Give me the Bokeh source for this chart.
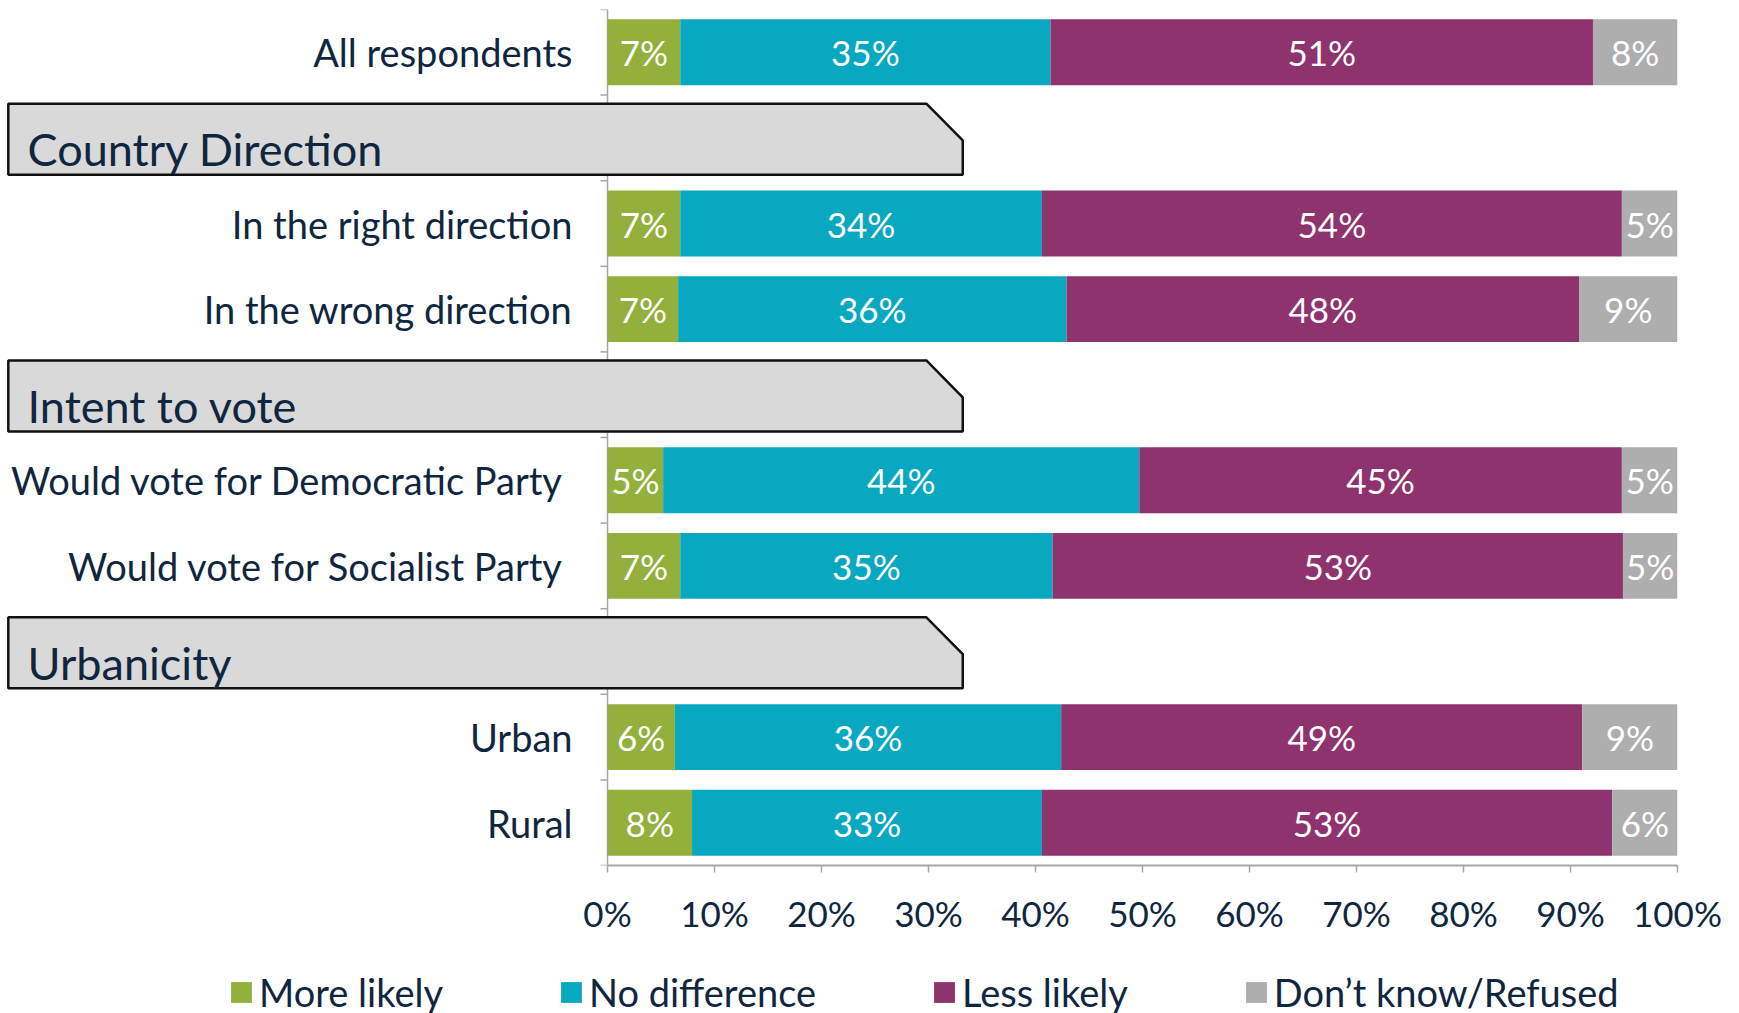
from bokeh.plotting import figure
from bokeh.layouts import column
from bokeh.models import Range1d, ColumnDataSource, FixedTicker, Legend, LegendItem
from bokeh.core.properties import value
from bokeh.embed import file_html
from bokeh.resources import INLINE

# ---------------- data ----------------
group_titles = [None, "Country Direction", "Intent to vote", "Urbanicity"]
group_members = [
    ["All respondents"],
    ["In the right direction", "In the wrong direction"],
    ["Would vote for Democratic Party", "Would vote for Socialist Party"],
    ["Urban", "Rural"],
]
categories = ["All respondents", "In the right direction", "In the wrong direction",
              "Would vote for Democratic Party", "Would vote for Socialist Party",
              "Urban", "Rural"]
series_names = ["More likely", "No difference", "Less likely", "Don\u2019t know/Refused"]
more_likely = [6.8, 6.8, 6.6, 5.2, 6.8, 6.3, 7.9]
no_difference = [34.6, 33.8, 36.3, 44.5, 34.8, 36.1, 32.7]
less_likely = [50.7, 54.2, 47.9, 45.1, 53.3, 48.7, 53.3]
dont_know = [7.9, 5.2, 9.2, 5.2, 5.1, 8.9, 6.1]
more_likely_lbl = [7, 7, 7, 5, 7, 6, 8]
no_difference_lbl = [35, 34, 36, 44, 35, 36, 33]
less_likely_lbl = [51, 54, 48, 45, 53, 49, 53]
dont_know_lbl = [8, 5, 9, 5, 5, 9, 6]
tick_values = [0, 10, 20, 30, 40, 50, 60, 70, 80, 90, 100]
tick_labels = ["0%", "10%", "20%", "30%", "40%", "50%", "60%", "70%", "80%", "90%", "100%"]

# ---------------- style ----------------
COLORS = ["#93AF3C", "#08A8C0", "#8E336D", "#AEAEAF"]
NAVY = "#10263F"
AXIS_GRAY = "#A6A6A6"
FONT = "Lato"
N_SLOTS = 10
W = 1730
LABEL_RIGHT_DEFAULT = -3.27
LABEL_RIGHT_LONG = -4.1
LONG_LABELS = {"Would vote for Democratic Party", "Would vote for Socialist Party"}

# slot layout: headers take a slot, members take one slot each
cat_slot = {}
header_slots = []
s = 0
for title, members in zip(group_titles, group_members):
    if title is not None:
        header_slots.append((title, s))
        s += 1
    for m in members:
        cat_slot[m] = s
        s += 1

def center(slot):
    return N_SLOTS - slot - 0.5

p = figure(width=W, height=945, output_backend="svg", toolbar_location=None,
           x_range=Range1d(-56.73, 100), y_range=Range1d(0, N_SLOTS),
           y_axis_location=None, min_border_left=0, min_border_right=53,
           min_border_top=9, min_border_bottom=80)
p.outline_line_color = None
p.xgrid.grid_line_color = None
p.ygrid.grid_line_color = None
p.background_fill_color = "white"

# vertical category axis at x = 0
p.segment(x0=[0], y0=[0], x1=[0], y1=[N_SLOTS], line_color=AXIS_GRAY, line_width=1.5)
bounds_y = list(range(N_SLOTS + 1))
p.segment(x0=[-0.65] * len(bounds_y), y0=bounds_y, x1=[0] * len(bounds_y), y1=bounds_y,
          line_color=AXIS_GRAY, line_width=1.5)

ys = [center(cat_slot[c]) for c in categories]
series = [more_likely, no_difference, less_likely, dont_know]
labels = [more_likely_lbl, no_difference_lbl, less_likely_lbl, dont_know_lbl]

left = [0.0] * len(categories)
for name, vals, lbls, col in zip(series_names, series, labels, COLORS):
    right = [l + v for l, v in zip(left, vals)]
    src = ColumnDataSource(dict(y=ys, left=left, right=right,
                                mid=[(l + r) / 2 for l, r in zip(left, right)],
                                txt=[f"{v}%" for v in lbls]))
    p.hbar(y="y", left="left", right="right", height=0.77, source=src,
           fill_color=col, line_color=None)
    p.text(x="mid", y="y", text="txt", source=src, text_color="white",
           text_font=value(FONT), text_font_size="35px",
           text_align="center", text_baseline="middle")
    left = right

# category labels
label_x = [LABEL_RIGHT_LONG if c in LONG_LABELS else LABEL_RIGHT_DEFAULT for c in categories]
p.text(x=label_x, y=ys, text=categories, text_color=NAVY,
       text_font=value(FONT), text_font_size="38px",
       text_align="right", text_baseline="middle")

# header boxes
xs_list, ys_list, hx, hy, ht = [], [], [], [], []
for title, slot in header_slots:
    top = N_SLOTS - slot - 0.10
    bot = N_SLOTS - slot - 1 + 0.07
    xs_list.append([-56.0, 29.8, 33.2, 33.2, -56.0])
    ys_list.append([top, top, top - 0.43, bot, bot])
    hx.append(-54.2)
    hy.append(bot + 0.30)
    ht.append(title)
p.patches(xs=xs_list, ys=ys_list, fill_color="#D9D9D9", line_color="#111111", line_width=2.5)
p.text(x=hx, y=hy, text=ht, text_color=NAVY, text_font=value(FONT),
       text_font_size="45px", text_align="left", text_baseline="middle")

# x axis
ax = p.xaxis[0]
ax.ticker = FixedTicker(ticks=tick_values)
ax.major_label_overrides = {v: t for v, t in zip(tick_values, tick_labels)}
ax.bounds = (0, 100)
ax.axis_line_color = AXIS_GRAY
ax.axis_line_width = 2
ax.major_tick_line_color = AXIS_GRAY
ax.major_tick_line_width = 1.5
ax.major_tick_out = 7
ax.major_tick_in = 0
ax.minor_tick_line_color = None
ax.major_label_standoff = 19
ax.major_label_text_font = FONT
ax.major_label_text_font_size = "35px"
ax.major_label_text_color = NAVY

# legend strip (its own small figure, same series colours)
pl = figure(width=W, height=68, output_backend="svg", toolbar_location=None,
            x_range=Range1d(0, W), y_range=Range1d(0, 68),
            x_axis_location=None, y_axis_location=None,
            min_border_left=0, min_border_right=0, min_border_top=0, min_border_bottom=0)
pl.outline_line_color = None
pl.xgrid.grid_line_color = None
pl.ygrid.grid_line_color = None
key_renderers = []
for name, col in zip(series_names, COLORS):
    key_renderers.append(pl.hbar(y=[-50], left=[0], right=[1], height=1,
                                 fill_color=col, line_color=None))
legend = Legend(items=[LegendItem(label=n, renderers=[r]) for n, r in zip(series_names, key_renderers)],
                location=(228, -2), orientation="horizontal", padding=0, margin=0,
                spacing=115, border_line_color=None, background_fill_alpha=0,
                glyph_width=26, glyph_height=26, label_standoff=5, label_height=40,
                label_text_font=FONT, label_text_font_size="38px",
                label_text_color=NAVY, label_text_baseline="middle")
pl.add_layout(legend, "center")

layout = column(p, pl, spacing=0)
open("out.html", "w").write(file_html(layout, INLINE))
